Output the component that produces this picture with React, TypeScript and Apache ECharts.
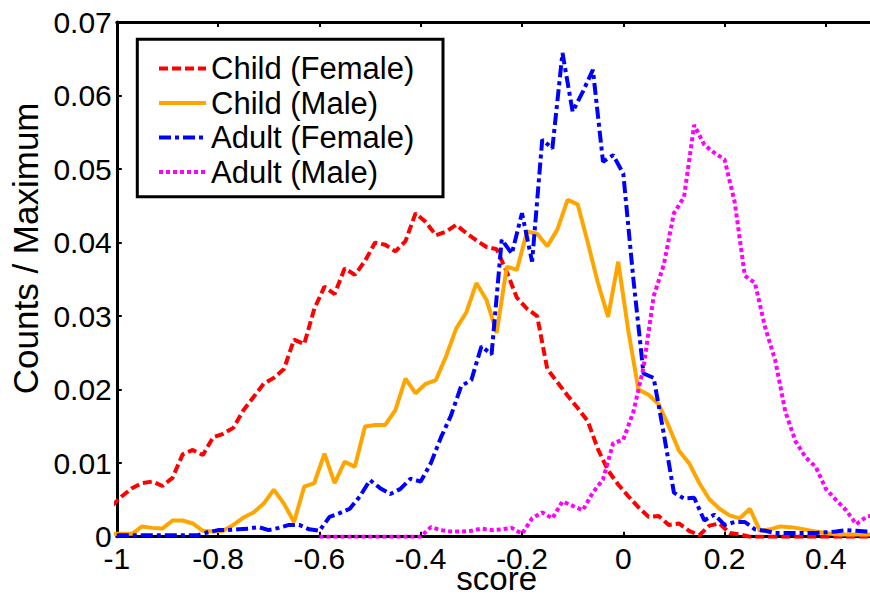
import React, { useEffect, useRef } from "react";
import * as echarts from "echarts";

// Bin centres of the histograms (two different binnings)
const binsOdd = Array.from({ length: 76 }, (_, i) => Math.round((-1.01 + 0.02 * i) * 100) / 100);
const binsEven = Array.from({ length: 76 }, (_, i) => Math.round((-1.0 + 0.02 * i) * 100) / 100);

const seriesNames = ["Child (Female)", "Child (Male)", "Adult (Female)", "Adult (Male)"];

// Child (Female) on binsOdd
const childFemale = [
  0.0042, 0.0055, 0.0066, 0.0073, 0.0075, 0.0069, 0.0080, 0.0112, 0.0118, 0.0111,
  0.0135, 0.0140, 0.0148, 0.0172, 0.0190, 0.0208, 0.0216, 0.0228, 0.0268, 0.0262,
  0.0310, 0.0340, 0.0330, 0.0365, 0.0356, 0.0375, 0.0400, 0.0397, 0.0388, 0.0402,
  0.0440, 0.0428, 0.0410, 0.0415, 0.0424, 0.0413, 0.0403, 0.0394, 0.0391, 0.0360,
  0.0325, 0.0310, 0.0300, 0.0228, 0.0210, 0.0192, 0.0175, 0.0157, 0.0119, 0.0090,
  0.0071, 0.0055, 0.0040, 0.0027, 0.0028, 0.0016, 0.0018, 0.0008, 0.0002, 0.0015,
  0.0018, 0.0005, 0.0003, 0, 0, 0, 0, 0, 0, 0,
  0, 0, 0, 0, 0, 0,
];

// Child (Male) on binsOdd
const childMale = [
  0.0004, 0.0004, 0.0004, 0.0014, 0.0012, 0.0011, 0.0022, 0.0022, 0.0018, 0.0008,
  0.0007, 0.0008, 0.0016, 0.0026, 0.0033, 0.0045, 0.0064, 0.0045, 0.0020, 0.0068,
  0.0073, 0.0113, 0.0073, 0.0102, 0.0095, 0.0150, 0.0152, 0.0152, 0.0172, 0.0215,
  0.0195, 0.0208, 0.0213, 0.0245, 0.0283, 0.0305, 0.0345, 0.0322, 0.0277, 0.0367,
  0.0363, 0.0415, 0.0412, 0.0395, 0.0418, 0.0458, 0.0452, 0.0400, 0.0345, 0.0299,
  0.0374, 0.0280, 0.0200, 0.0193, 0.0180, 0.0150, 0.0117, 0.0100, 0.0073, 0.0051,
  0.0038, 0.0029, 0.0025, 0.0038, 0.0008, 0.0010, 0.0014, 0.0013, 0.0011, 0.0008,
  0.0006, 0.0004, 0.0003, 0.0003, 0.0003, 0.0003,
];

// Adult (Female) on binsEven
const adultFemale = [
  0.0002, 0.0002, 0.0002, 0.0002, 0.0002, 0.0002, 0.0002, 0.0002, 0.0002, 0.0006,
  0.0009, 0.0009, 0.0010, 0.0011, 0.0013, 0.0009, 0.0012, 0.0016, 0.0016, 0.0010,
  0.0008, 0.0027, 0.0032, 0.0038, 0.0055, 0.0077, 0.0066, 0.0058, 0.0065, 0.0079,
  0.0075, 0.0100, 0.0135, 0.0165, 0.0205, 0.0213, 0.0259, 0.0248, 0.0404, 0.0385,
  0.0440, 0.0374, 0.0540, 0.0528, 0.0658, 0.0578, 0.0605, 0.0635, 0.0510, 0.0519,
  0.0494, 0.0350, 0.0222, 0.0216, 0.0140, 0.0060, 0.0052, 0.0053, 0.0022, 0.0030,
  0.0016, 0.0020, 0.0020, 0.0010, 0.0008, 0.0005, 0.0005, 0.0005, 0.0005, 0.0005,
  0.0006, 0.0007, 0.0009, 0.0008, 0.0007, 0.0007,
];

// Adult (Male) on binsEven, starting at bin index 20 (-0.60)
const adultMaleStart = 20;
const adultMale = [
  0, 0, 0, 0, 0, 0, 0, 0, 0, 0,
  0, 0.0013, 0.0009, 0.0007, 0.0007, 0.0008, 0.0011, 0.0009, 0.0010, 0.0012,
  0.0004, 0.0025, 0.0033, 0.0025, 0.0048, 0.0042, 0.0036, 0.0060, 0.0078, 0.0127,
  0.0132, 0.0170, 0.0230, 0.0327, 0.0370, 0.0440, 0.0462, 0.0560, 0.0533, 0.0522,
  0.0513, 0.0455, 0.0355, 0.0345, 0.0285, 0.0240, 0.0170, 0.0130, 0.0108, 0.0095,
  0.0065, 0.0050, 0.0036, 0.0017, 0.0027, 0.0030,
];

const FONT = "'Liberation Sans', Arial, Helvetica, sans-serif";

export default function App() {
  const ref = useRef<HTMLDivElement>(null);
  useEffect(() => {
    if (!ref.current) return;
    const chart = echarts.init(ref.current, undefined, { renderer: "svg" });
    const axisLine = { show: true, onZero: false, lineStyle: { color: "#000", width: 3 } };
    const axisTick = { show: true, inside: true, length: 5, lineStyle: { color: "#000", width: 2 } };
    const mk = (name: string, xs: number[], ys: number[], color: string, type: any) => ({
      name,
      type: "line",
      data: ys.map((y, i) => [xs[i], y]),
      symbol: "none",
      showSymbol: false,
      clip: true,
      lineStyle: { color, width: 4, type },
      itemStyle: { color },
      z: 2,
    });
    chart.setOption({
      animation: false,
      backgroundColor: "#fff",
      textStyle: { fontFamily: FONT },
      grid: {
        left: 116.8,
        top: 22,
        width: 759.7,
        height: 514.7,
        containLabel: false,
        outerBoundsMode: "none",
      },
      legend: {
        orient: "vertical",
        left: 157,
        top: 53,
        padding: 0,
        itemGap: 3.5,
        itemWidth: 47,
        itemHeight: 14,
        lineStyle: { width: 4 },
        itemStyle: { opacity: 0 },
        textStyle: { fontSize: 31, color: "#000", fontFamily: FONT },
        data: seriesNames,
      },
      graphic: [
        {
          type: "rect",
          z: 1,
          shape: { x: 137.3, y: 39.3, width: 305.7, height: 157.4 },
          style: { fill: "none", stroke: "#000", lineWidth: 3 },
        },
      ],
      xAxis: [
        {
          type: "value",
          position: "bottom",
          min: -1,
          max: 0.5,
          interval: 0.2,
          name: "score",
          nameLocation: "middle",
          nameGap: 33,
          nameMoveOverlap: false,
          nameTextStyle: { fontSize: 33, lineHeight: 18, color: "#000", fontFamily: FONT },
          axisLine,
          axisTick,
          axisLabel: {
            fontSize: 30,
            lineHeight: 22,
            color: "#000",
            margin: 10.5,
            showMaxLabel: false,
            fontFamily: FONT,
          },
          splitLine: { show: false },
        },
        {
          type: "value",
          position: "top",
          min: -1,
          max: 0.5,
          interval: 0.2,
          axisLine,
          axisTick,
          axisLabel: { show: false },
          splitLine: { show: false },
        },
      ],
      yAxis: [
        {
          type: "value",
          min: 0,
          max: 0.07,
          interval: 0.01,
          name: "Counts / Maximum",
          nameLocation: "middle",
          nameGap: 74,
          nameRotate: 90,
          nameMoveOverlap: false,
          nameTextStyle: { fontSize: 35, color: "#000", fontFamily: FONT, padding: [0, 0, 0, 62] },
          axisLine,
          axisTick,
          axisLabel: { fontSize: 30, lineHeight: 20, color: "#000", margin: 5, fontFamily: FONT },
          splitLine: { show: false },
        },
      ],
      series: [
        mk(seriesNames[0], binsOdd, childFemale, "#ff0000", [9, 4]),
        mk(seriesNames[1], binsOdd, childMale, "#ffa500", "solid"),
        mk(seriesNames[2], binsEven, adultFemale, "#0000ff", [12, 4, 4, 4]),
        mk(seriesNames[3], binsEven.slice(adultMaleStart), adultMale, "#ff00ff", [4, 3]),
      ],
    });
    return () => chart.dispose();
  }, []);
  return (
    <div
      ref={ref}
      style={{ position: "fixed", left: 0, top: 0, width: 870, height: 597, background: "#fff" }}
    />
  );
}
